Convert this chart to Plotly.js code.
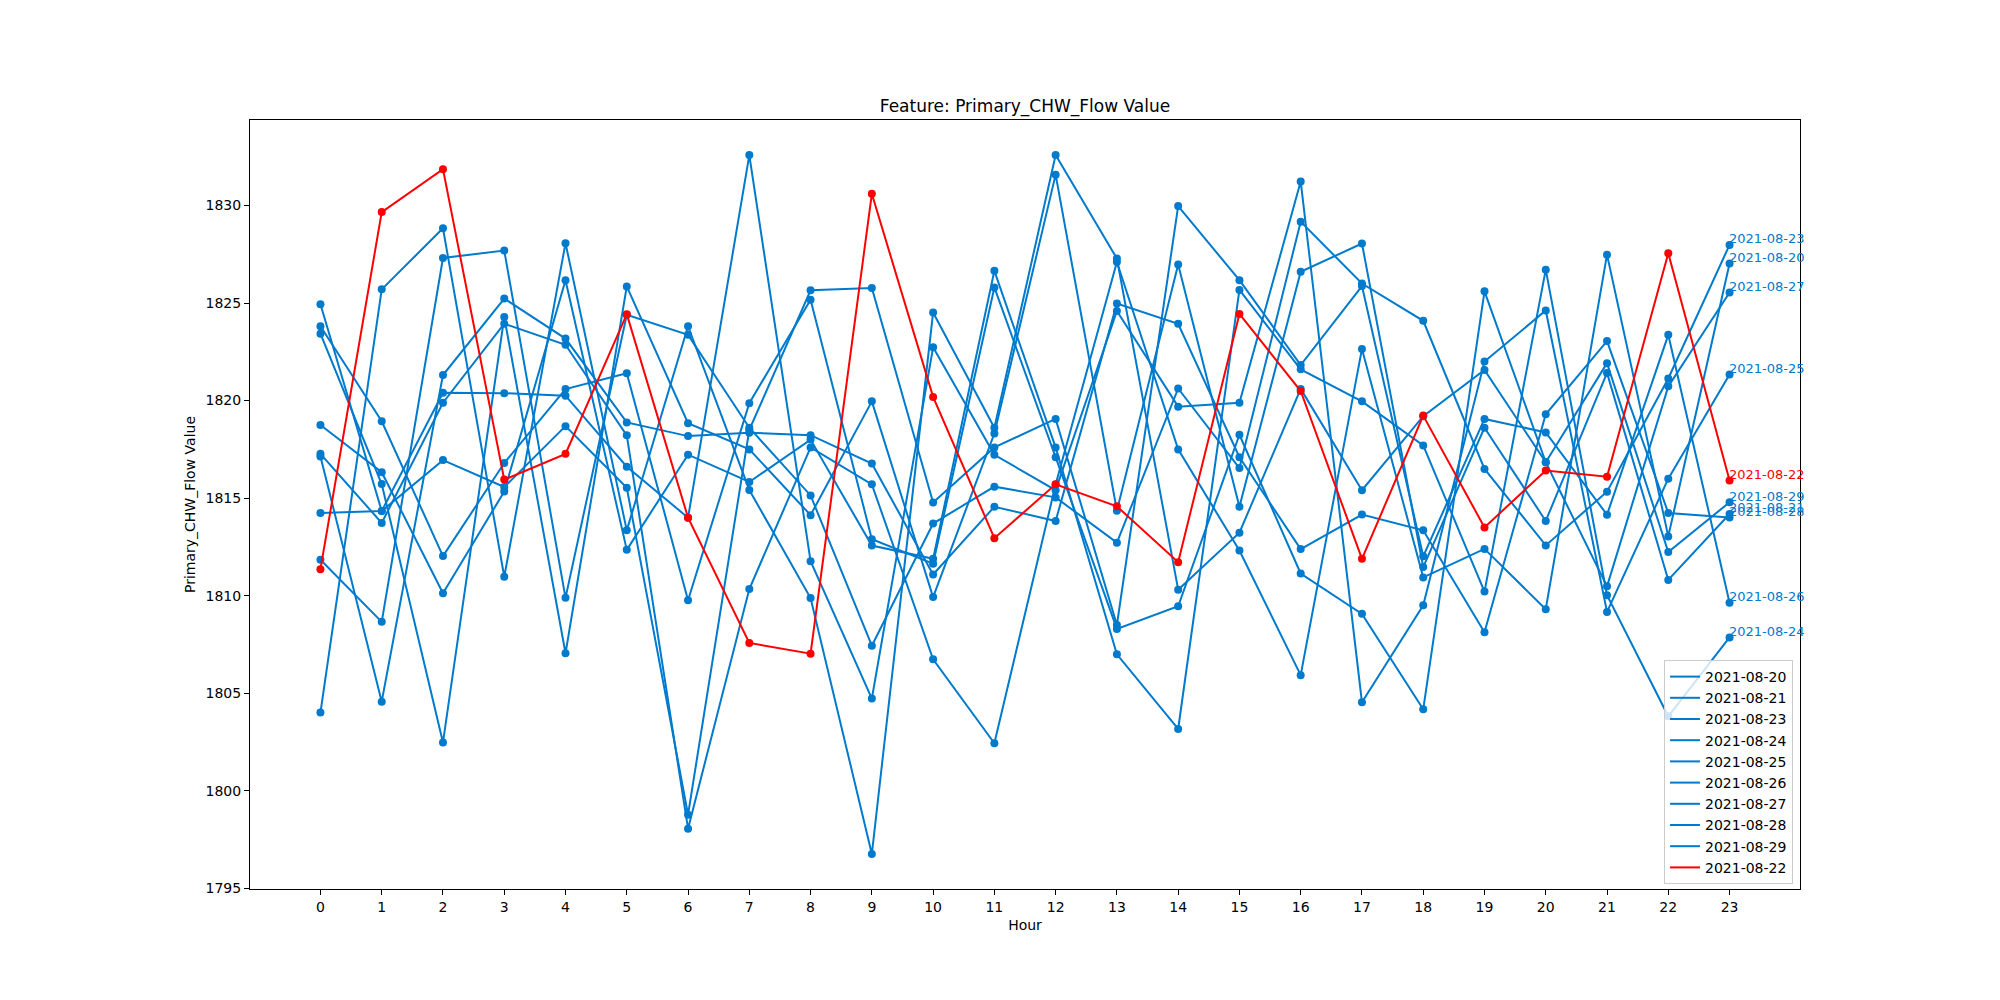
<!DOCTYPE html>
<html>
<head>
<meta charset="utf-8">
<script src="https://cdn.plot.ly/plotly-3.0.1.min.js"></script>
<style>
  html, body { margin: 0; padding: 0; background: #fff; }
  #chart { width: 2000px; height: 1000px; }
</style>
</head>
<body>
<div id="chart"></div>
<script>
// hourly values per day
const hours = [0, 1, 2, 3, 4, 5, 6, 7, 8, 9, 10, 11, 12, 13, 14, 15, 16, 17, 18, 19, 20, 21, 22, 23];

const day20 = [1817.27, 1813.73, 1819.89, 1823.94, 1822.86, 1818.22, 1798.06, 1810.34, 1817.60, 1815.71, 1806.74, 1802.44,
               1815.70, 1827.10, 1817.50, 1812.32, 1805.93, 1822.65, 1810.94, 1812.40, 1809.31, 1827.48, 1813.04, 1827.03];
const day21 = [1823.43, 1815.72, 1802.48, 1824.28, 1807.05, 1825.85, 1818.84, 1817.50, 1814.13, 1819.96, 1809.93, 1818.31,
               1831.58, 1814.36, 1826.98, 1814.56, 1826.60, 1828.05, 1811.47, 1818.61, 1813.83, 1821.42, 1810.81, 1814.19];
const day23 = [1811.84, 1808.66, 1827.31, 1827.69, 1809.89, 1824.40, 1823.37, 1818.61, 1815.14, 1807.44, 1813.70, 1815.59,
               1815.04, 1812.72, 1820.62, 1816.54, 1829.17, 1826.00, 1824.09, 1816.50, 1812.58, 1815.33, 1821.13, 1827.98];
const day24 = [1818.75, 1816.33, 1810.13, 1815.34, 1826.17, 1812.35, 1817.23, 1815.83, 1818.00, 1812.57, 1811.89, 1826.65,
               1817.60, 1807.00, 1803.17, 1825.67, 1821.60, 1819.96, 1817.70, 1810.21, 1826.71, 1810.03, 1803.82, 1807.86];
const day25 = [1824.94, 1814.34, 1820.40, 1820.38, 1820.25, 1816.61, 1814.00, 1832.58, 1811.77, 1804.73, 1822.73, 1817.22,
               1815.41, 1824.59, 1819.69, 1819.89, 1831.23, 1804.54, 1809.51, 1822.00, 1824.62, 1809.17, 1816.00, 1821.34];
const day26 = [1814.24, 1814.34, 1816.95, 1815.57, 1818.69, 1815.53, 1798.78, 1818.50, 1825.65, 1825.77, 1814.78, 1817.60,
               1819.06, 1808.50, 1829.97, 1826.17, 1821.82, 1825.87, 1812.02, 1819.06, 1818.37, 1814.15, 1823.37, 1809.64];
const day27 = [1804.01, 1825.70, 1828.83, 1810.97, 1828.07, 1813.35, 1823.81, 1815.42, 1809.88, 1796.76, 1824.51, 1818.61,
               1832.59, 1827.28, 1810.31, 1813.23, 1820.60, 1815.41, 1819.20, 1821.57, 1816.84, 1810.48, 1820.73, 1825.54];
const day28 = [1817.14, 1804.57, 1821.31, 1825.23, 1823.18, 1818.88, 1818.18, 1818.35, 1818.23, 1816.77, 1811.09, 1814.56,
               1813.83, 1824.97, 1823.94, 1817.10, 1812.39, 1814.16, 1813.35, 1808.13, 1819.30, 1823.05, 1814.24, 1814.01];
const day29 = [1823.81, 1818.94, 1812.03, 1816.80, 1820.59, 1821.40, 1809.77, 1819.87, 1825.17, 1812.90, 1811.64, 1825.80,
               1817.10, 1808.30, 1809.46, 1818.25, 1811.14, 1809.07, 1804.18, 1825.60, 1816.84, 1821.92, 1812.24, 1814.79];
// highlighted day
const day22 = [1811.36, 1829.66, 1831.86, 1815.95, 1817.27, 1824.43, 1814.00, 1807.58, 1807.03, 1830.60, 1820.19, 1812.95,
               1815.71, 1814.58, 1811.72, 1824.44, 1820.49, 1811.89, 1819.23, 1813.50, 1816.42, 1816.10, 1827.55, 1815.90];

const dayNames = ["2021-08-20", "2021-08-21", "2021-08-23", "2021-08-24", "2021-08-25",
                  "2021-08-26", "2021-08-27", "2021-08-28", "2021-08-29", "2021-08-22"];
const dayValues = [day20, day21, day23, day24, day25, day26, day27, day28, day29, day22];
const yTicks = [1795, 1800, 1805, 1810, 1815, 1820, 1825, 1830];

const BLUE = "#007acc";
const RED = "#ff0000";
const FONT = "DejaVu Sans, sans-serif";

function colorFor(name) {
    return name === "2021-08-22" ? RED : BLUE;
}

let traces = [];
// the plotted lines (markers on), legend handled separately
dayNames.forEach((name, k) => {
    traces.push({
        x: hours,
        y: dayValues[k],
        type: "scatter",
        mode: "lines+markers",
        line: { color: colorFor(name), width: 2 },
        marker: { color: colorFor(name), size: 8 },
        showlegend: false,
        hoverinfo: "skip"
    });
});
// legend entries show a plain line, like the reference
dayNames.forEach(name => {
    traces.push({
        x: [null],
        y: [null],
        type: "scatter",
        mode: "lines",
        name: name,
        line: { color: colorFor(name), width: 2 }
    });
});

// day label at each line's last point
let labels = dayNames.map((name, k) => ({
    x: hours[hours.length - 1],
    y: dayValues[k][dayValues[k].length - 1],
    xref: "x",
    yref: "y",
    text: name,
    showarrow: false,
    xanchor: "left",
    yanchor: "middle",
    xshift: -3,
    yshift: 6,
    font: { family: FONT, size: 13, color: colorFor(name) }
}));

let layout = {
    width: 2000,
    height: 1000,
    margin: { l: 250, r: 200, t: 120, b: 111, pad: 0 },
    paper_bgcolor: "#ffffff",
    plot_bgcolor: "#ffffff",
    font: { family: FONT, size: 14, color: "#000000" },
    title: {
        text: "Feature: Primary_CHW_Flow Value",
        font: { family: FONT, size: 17, color: "#000000" },
        x: 0.5,
        xref: "paper",
        xanchor: "center",
        y: 0.894,
        yref: "container",
        yanchor: "middle"
    },
    xaxis: {
        range: [-1.15, 24.15],
        tickmode: "array",
        tickvals: hours,
        ticktext: hours.map(String),
        ticks: "outside",
        ticklen: 5,
        tickwidth: 1,
        tickcolor: "#000000",
        showgrid: false,
        zeroline: false,
        showline: true,
        linecolor: "#000000",
        linewidth: 1,
        mirror: true,
        tickfont: { family: FONT, size: 14 },
        title: { text: "Hour", font: { family: FONT, size: 14 }, standoff: 6 },
        automargin: false
    },
    yaxis: {
        range: [1794.97, 1834.38],
        tickmode: "array",
        tickvals: yTicks,
        ticktext: yTicks.map(String),
        ticks: "outside",
        ticklen: 5,
        tickwidth: 1,
        tickcolor: "#000000",
        showgrid: false,
        zeroline: false,
        showline: true,
        linecolor: "#000000",
        linewidth: 1,
        mirror: true,
        tickfont: { family: FONT, size: 14 },
        title: { text: "Primary_CHW_Flow Value", font: { family: FONT, size: 14 }, standoff: 6 },
        automargin: false
    },
    legend: {
        x: 0.9955,
        y: 0.0065,
        xanchor: "right",
        yanchor: "bottom",
        bgcolor: "rgba(255,255,255,0.8)",
        bordercolor: "#cccccc",
        borderwidth: 1,
        font: { family: FONT, size: 14, color: "#000000" },
        traceorder: "normal"
    },
    annotations: labels,
    showlegend: true
};

Plotly.newPlot("chart", traces, layout, { displayModeBar: false, staticPlot: true });
</script>
</body>
</html>
